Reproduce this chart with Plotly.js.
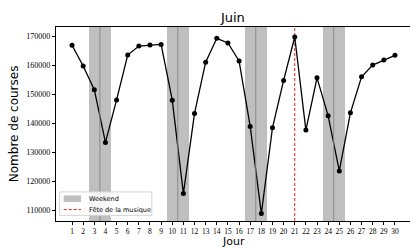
<!DOCTYPE html>
<html><head><meta charset="utf-8">
<script src="https://cdn.plot.ly/plotly-3.0.1.min.js"></script>
<style>html,body{margin:0;padding:0;background:#fff}#c{width:410px;height:248px}</style>
</head><body><div id="c"></div>
<script>
const days = Array.from({length:30},(_,i)=>i+1);
const courses = [166800,159650,151500,133350,148000,163450,166550,166900,167100,147900,
  115750,143350,161000,169200,167600,161400,138850,108850,138400,154700,
  169650,137600,155600,142500,123550,143550,155950,160000,161700,163350];
const weekendDays = [3,4,10,11,17,18,24,25];
const feteDay = 21;
const yTicks = [110000,120000,130000,140000,150000,160000,170000];
const legendLabels = ['Weekend','Fête de la musique'];
const yRange = [106300,173100];
const xRange = [-0.44,31.35];

const traces = [
  {type:'bar', x:weekendDays, y:weekendDays.map(()=>yRange[1]-yRange[0]), base:yRange[0],
   width:1, marker:{color:'#bfbfbf', line:{width:0}}, name:legendLabels[0], hoverinfo:'skip', showlegend:false},
  {type:'scatter', mode:'lines', x:[feteDay,feteDay], y:yRange, name:legendLabels[1], showlegend:false,
   line:{color:'#e8201e', dash:'3px,2px', width:1}},
  {type:'scatter', mode:'lines+markers', x:days, y:courses, showlegend:false,
   line:{color:'#000', width:1.3}, marker:{color:'#000', size:5}}
];
const shapes = [];
for (let i=0;i<weekendDays.length;i+=2){
  const m = (weekendDays[i]+weekendDays[i+1])/2;
  shapes.push({type:'line', xref:'x', yref:'paper', x0:m, x1:m, y0:0, y1:1,
    line:{color:'#8a8a8a', width:1}, layer:'above'});
}
// legend (drawn in paper coordinates)
shapes.push({type:'rect', xref:'paper', yref:'paper', x0:0.0105, x1:0.2706, y0:0.029, y1:0.150,
  line:{color:'#d4d4d4', width:1}, fillcolor:'rgba(255,255,255,0.85)', layer:'above'});
shapes.push({type:'rect', xref:'paper', yref:'paper', x0:0.0217, x1:0.0706, y0:0.098, y1:0.132,
  line:{width:0}, fillcolor:'#bfbfbf', layer:'above'});
shapes.push({type:'line', xref:'paper', yref:'paper', x0:0.0217, x1:0.0706, y0:0.0589, y1:0.0589,
  line:{color:'#e8201e', width:1, dash:'3px,2px'}, layer:'above'});

const layout = {
  width:410, height:248, margin:{l:56,r:0,t:27,b:27},
  paper_bgcolor:'#fff', plot_bgcolor:'#fff', showlegend:false, bargap:0,
  title:{text:'Juin', font:{family:'DejaVu Sans', size:13, color:'#000'}, x:0.568, xanchor:'center', y:0.93, yanchor:'middle'},
  xaxis:{range:xRange, tickvals:days, ticktext:days.map(String), showgrid:false, zeroline:false,
    showline:true, mirror:true, linecolor:'#000', linewidth:1.2, ticks:'outside', ticklen:3, tickcolor:'#000',
    tickfont:{family:'Liberation Serif', size:7.5, color:'#000'}},
  yaxis:{range:yRange, tickvals:yTicks, ticktext:yTicks.map(String), showgrid:false, zeroline:false,
    showline:true, linecolor:'#000', linewidth:1.2, ticks:'outside', ticklen:3, tickcolor:'#000',
    tickfont:{family:'Liberation Serif', size:8, color:'#000'}},
  annotations:[
    {text:'Jour', xref:'paper', yref:'paper', x:0.5, y:-0.105, xanchor:'center', yanchor:'middle',
     showarrow:false, font:{family:'DejaVu Sans', size:11, color:'#000'}},
    {text:'Nombre de courses', xref:'paper', yref:'paper', x:-0.118, y:0.5, xanchor:'center', yanchor:'middle',
     textangle:-90, showarrow:false, font:{family:'DejaVu Sans', size:12, color:'#000'}},
    {text:legendLabels[0], xref:'paper', yref:'paper', x:0.0865, y:0.1156, xanchor:'left', yanchor:'middle',
     showarrow:false, font:{family:'DejaVu Sans', size:6.5, color:'#000'}},
    {text:legendLabels[1], xref:'paper', yref:'paper', x:0.0865, y:0.0589, xanchor:'left', yanchor:'middle',
     showarrow:false, font:{family:'DejaVu Sans', size:6.5, color:'#000'}}
  ],
  shapes:shapes
};
Plotly.newPlot('c', traces, layout, {displayModeBar:false, staticPlot:true});
</script></body></html>
